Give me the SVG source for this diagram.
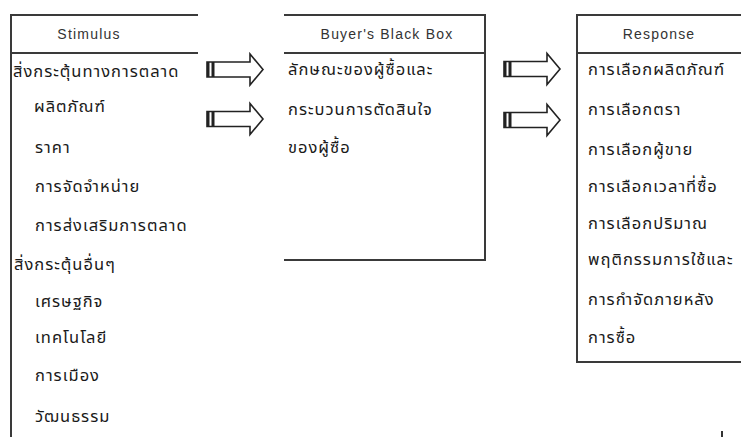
<svg xmlns="http://www.w3.org/2000/svg" xmlns:xlink="http://www.w3.org/1999/xlink" width="741" height="437" viewBox="0 0 741 437">
  <style>
    .rule { stroke: #3a3a3a; stroke-width: 2; fill: none; }
    .title { font-family: "Liberation Sans", Arial, sans-serif; font-size: 14px; letter-spacing: 1.2px; fill: #333; text-anchor: middle; }
    .th { font-family: "Noto Sans Thai", "Noto Sans", "DejaVu Sans", sans-serif; font-size: 16.5px; letter-spacing: 1px; fill: #1a1a1a; }
    .arrow { stroke: #222; stroke-width: 1.6; fill: #fff; stroke-linejoin: miter; }
    .bar { fill: #222; }
  </style>
  <defs>
    <!-- hollow block arrow with a double bar at its tail -->
    <g id="blockArrow">
      <path class="arrow" d="M0,-7.5 H43 V-15.5 L56,0 L43,15.5 V7.5 H0 Z"/>
      <rect class="bar" x="0" y="-7.5" width="2.5" height="15"/>
      <rect class="bar" x="4.5" y="-7.5" width="3" height="15"/>
    </g>
  </defs>

  <rect width="741" height="437" fill="#fff"/>

  <!-- Stimulus column -->
  <g id="stimulus">
    <line class="rule" x1="11" y1="14" x2="11" y2="437"/>
    <line class="rule" x1="10" y1="15" x2="198" y2="15"/>
    <line class="rule" x1="10" y1="53" x2="198" y2="53"/>
    <text class="title" x="89" y="39">Stimulus</text>
    <text class="th" x="13" y="77">สิ่งกระตุ้นทางการตลาด</text>
    <text class="th" x="34" y="112">ผลิตภัณฑ์</text>
    <text class="th" x="35" y="153">ราคา</text>
    <text class="th" x="35" y="192">การจัดจำหน่าย</text>
    <text class="th" x="35" y="231">การส่งเสริมการตลาด</text>
    <text class="th" x="14" y="270">สิ่งกระตุ้นอื่นๆ</text>
    <text class="th" x="35" y="307">เศรษฐกิจ</text>
    <text class="th" x="35" y="343">เทคโนโลยี</text>
    <text class="th" x="35" y="381">การเมือง</text>
    <text class="th" x="35" y="422">วัฒนธรรม</text>
  </g>

  <!-- Buyer's Black Box column -->
  <g id="black-box">
    <line class="rule" x1="284" y1="15" x2="485" y2="15"/>
    <line class="rule" x1="284" y1="53" x2="485" y2="53"/>
    <line class="rule" x1="485" y1="14" x2="485" y2="261"/>
    <line class="rule" x1="284" y1="260" x2="486" y2="260"/>
    <text class="title" x="387" y="39">Buyer's Black Box</text>
    <text class="th" x="288" y="75">ลักษณะของผู้ซื้อและ</text>
    <text class="th" x="288" y="115">กระบวนการตัดสินใจ</text>
    <text class="th" x="288" y="153">ของผู้ซื้อ</text>
  </g>

  <!-- Response column -->
  <g id="response">
    <line class="rule" x1="577" y1="14" x2="577" y2="363"/>
    <line class="rule" x1="576" y1="15" x2="741" y2="15"/>
    <line class="rule" x1="576" y1="53" x2="741" y2="53"/>
    <line class="rule" x1="576" y1="362" x2="741" y2="362"/>
    <text class="title" x="659" y="39">Response</text>
    <text class="th" x="588" y="75">การเลือกผลิตภัณฑ์</text>
    <text class="th" x="588" y="115">การเลือกตรา</text>
    <text class="th" x="588" y="155">การเลือกผู้ขาย</text>
    <text class="th" x="588" y="192">การเลือกเวลาที่ซื้อ</text>
    <text class="th" x="588" y="229">การเลือกปริมาณ</text>
    <text class="th" x="588" y="265">พฤติกรรมการใช้และ</text>
    <text class="th" x="588" y="305">การกำจัดภายหลัง</text>
    <text class="th" x="588" y="343">การซื้อ</text>
  </g>

  <!-- block arrows between the columns -->
  <g id="connectors">
    <use xlink:href="#blockArrow" x="207" y="69.5"/>
    <use xlink:href="#blockArrow" x="207" y="119"/>
    <use xlink:href="#blockArrow" x="504" y="69"/>
    <use xlink:href="#blockArrow" x="504" y="120"/>
  </g>

  <!-- stray mark at the lower right -->
  <rect x="721" y="431" width="2" height="6" fill="#333"/>
</svg>
